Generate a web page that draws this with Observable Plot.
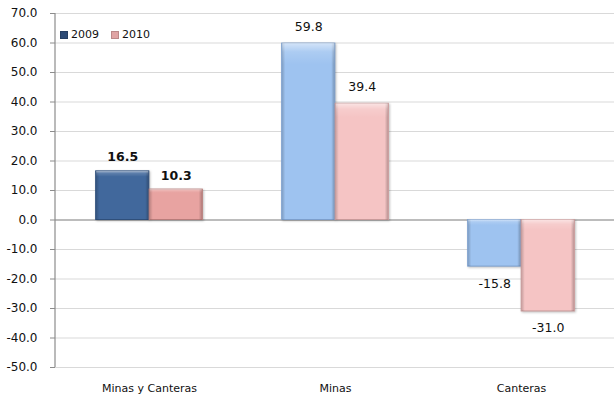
<!DOCTYPE html>
<html>
<head>
<meta charset="utf-8">
<script src="https://cdn.jsdelivr.net/npm/d3@7"></script>
<script src="https://cdn.jsdelivr.net/npm/@observablehq/plot@0.6"></script>
<style>
  html, body { margin: 0; padding: 0; background: #fff; }
  #wrap { position: relative; width: 614px; height: 401px; }
  #legend { position: absolute; left: 60px; top: 28px; font: 11px "DejaVu Sans", sans-serif; color: #111; display: flex; align-items: center; }
  #legend .sw { display: inline-block; width: 6px; height: 6px; margin-right: 3px; }
  #legend .item { display: flex; align-items: center; margin-right: 12px; }
</style>
</head>
<body>
<div id="wrap"><div id="legend"></div></div>
<script>
const categories = ["Minas y Canteras", "Minas", "Canteras"];
const years = ["2009", "2010"];
const values2009 = [16.5, 59.8, -15.8];
const values2010 = [10.3, 39.4, -31.0];
const yTicks = [-50, -40, -30, -20, -10, 0, 10, 20, 30, 40, 50, 60, 70];

// colours: first group is darker than the other two
const palette = {
  "2009": {dark: "#41689c", light: "#9ec3f0", darkStroke: "#2f4f7a", lightStroke: "#7d9fcc", legend: "#2c4a75"},
  "2010": {dark: "#e8a3a1", light: "#f5c4c4", darkStroke: "#b87c7a", lightStroke: "#c99a9a", legend: "#e0a4a4"}
};

const rows = categories.flatMap((c, i) => [
  {cat: c, idx: i, year: years[0], value: values2009[i]},
  {cat: c, idx: i, year: years[1], value: values2010[i]}
]);
const fmt = d => d.toFixed(1);
const fillOf = d => d.idx === 0 ? palette[d.year].dark : palette[d.year].light;
const strokeOf = d => d.idx === 0 ? palette[d.year].darkStroke : palette[d.year].lightStroke;

const W = 614, ML = 55;
const step = (W - ML) / categories.length;
const barW = 53.5;
const half = step / 2;
const font = '"DejaVu Sans", sans-serif';

const r09 = rows.filter(d => d.year === "2009");
const r10 = rows.filter(d => d.year === "2010");

function labels(data, dx) {
  const pos = data.filter(d => d.value >= 0), neg = data.filter(d => d.value < 0);
  return [
    Plot.text(pos.filter(d => d.idx === 0), {x: "cat", y: "value", text: d => fmt(d.value), dx, dy: -14, fontWeight: "bold", fontSize: 12.5, fill: "#111"}),
    Plot.text(pos.filter(d => d.idx !== 0), {x: "cat", y: "value", text: d => fmt(d.value), dx, dy: -17, fontSize: 12.5, fill: "#111"}),
    Plot.text(neg, {x: "cat", y: "value", text: d => fmt(d.value), dx, dy: 17, fontSize: 12.5, fill: "#111"})
  ];
}

const bev = (data, l, r) => [
  Plot.barY(data, {x: "cat", y: "value", fill: fillOf, stroke: strokeOf, strokeWidth: 1, insetLeft: l, insetRight: r}),
  Plot.barY(data, {x: "cat", y: "value", fill: "url(#bevH)", insetLeft: l + 0.5, insetRight: r + 0.5}),
  Plot.barY(data, {x: "cat", y: "value", fill: "url(#bevV)", insetLeft: l + 0.5, insetRight: r + 0.5})
];

const chart = Plot.plot({
  width: W,
  height: 401,
  marginLeft: ML,
  marginRight: 0,
  marginTop: 13,
  marginBottom: 34,
  style: {fontFamily: font, fontSize: "12px", background: "#fff", color: "#111"},
  x: {domain: categories, padding: 0, label: null},
  y: {domain: [-50, 70], label: null},
  marks: [
    Plot.ruleY(yTicks, {stroke: "#d9d9d9", strokeWidth: 1}),
    Plot.ruleY([0], {stroke: "#8c8c8c", strokeWidth: 1.2}),
    ...bev(r09, half - barW, half),
    ...bev(r10, half, half - barW),
    ...labels(r09, -barW / 2),
    ...labels(r10, barW / 2),
    Plot.axisY({ticks: yTicks, tickFormat: fmt, tickSize: 5, tickPadding: 13, stroke: "#8c8c8c", fill: "#111", fontSize: 12, label: null}),
    Plot.axisX({tickSize: 0, tickPadding: 17, fontSize: 11, fill: "#111", label: null})
  ]
});

const svg = d3.select(chart);
const defs = svg.insert("defs", ":first-child");
const gh = defs.append("linearGradient").attr("id", "bevH").attr("x1", 0).attr("x2", 1).attr("y1", 0).attr("y2", 0);
[[0, 0.18], [0.06, 0], [0.94, 0], [1, 0.22]].forEach(([o, a]) => gh.append("stop").attr("offset", o).attr("stop-color", "#000").attr("stop-opacity", a));
const gv = defs.append("linearGradient").attr("id", "bevV").attr("x1", 0).attr("x2", 0).attr("y1", 0).attr("y2", 1);
[[0, 0.55], [0.05, 0.15], [0.12, 0], [0.95, 0], [1, 0]].forEach(([o, a]) => gv.append("stop").attr("offset", o).attr("stop-color", "#fff").attr("stop-opacity", a));

// axis line on the left
svg.append("line").attr("x1", ML).attr("x2", ML).attr("y1", 13).attr("y2", 401 - 34).attr("stroke", "#8c8c8c").attr("stroke-width", 1.2);
svg.selectAll('g[aria-label="bar"]').filter((d, i) => i % 3 === 0).style("filter", "drop-shadow(1px 1px 1px rgba(0,0,0,0.25))");

document.getElementById("wrap").prepend(chart);
chart.style.position = "absolute";
chart.style.left = "0";
chart.style.top = "0";

const legend = d3.select("#legend");
years.forEach(y => {
  const it = legend.append("span").attr("class", "item");
  it.append("span").attr("class", "sw").style("background", palette[y].legend).style("border", "1px solid " + d3.color(palette[y].legend).darker(0.5));
  it.append("span").text(y);
});
</script>
</body>
</html>
